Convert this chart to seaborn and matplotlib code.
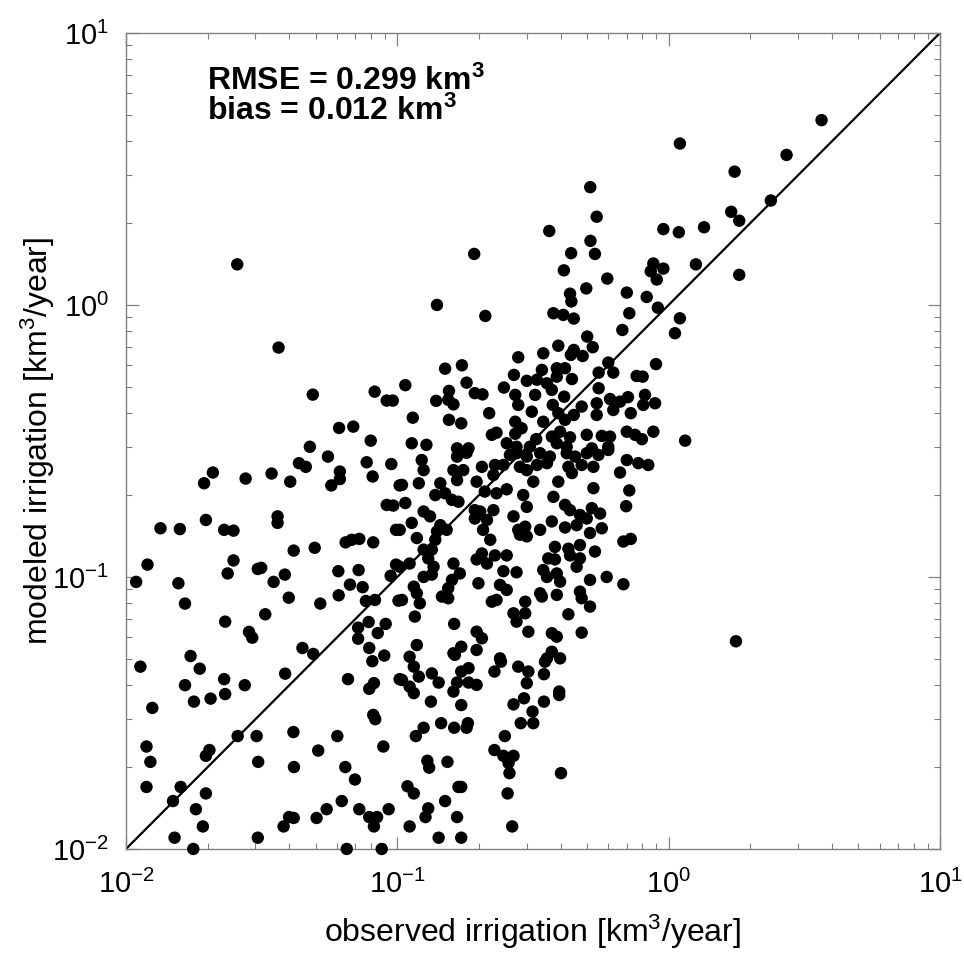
import numpy as np
import pandas as pd
import seaborn as sns
import matplotlib
matplotlib.use("Agg")
import matplotlib.pyplot as plt

# observed vs modeled irrigation, km3/year
observed_km3 = [
    3.66, 1.10, 2.72, 1.75, 2.38, 1.70, 1.82, 1.35, 1.09, 1.26, 1.82, 1.10, 1.055, 1.15, 1.77,
    0.514, 0.543, 0.363, 0.956, 0.515, 0.192, 0.140, 0.211, 0.437, 0.535, 0.411, 0.594, 0.878,
    0.859, 0.956, 0.904, 0.497, 0.433, 0.438, 0.701, 0.830, 0.912, 0.716, 0.376, 0.409, 0.447,
    0.675, 0.501, 0.525, 0.392, 0.447, 0.436, 0.482, 0.345, 0.279, 0.599, 0.898, 0.552, 0.625,
    0.150, 0.173, 0.107, 0.180, 0.269, 0.341, 0.387, 0.415, 0.300, 0.327, 0.356, 0.387, 0.440,
    0.371, 0.762, 0.802, 0.247, 0.155, 0.193, 0.206, 0.272, 0.322, 0.552, 0.139, 0.154, 0.161,
    0.279, 0.374, 0.412, 0.543, 0.608, 0.662, 0.708, 0.818, 0.891, 0.806, 0.313, 0.478, 0.625,
    0.543, 0.725, 0.218, 0.114, 0.155, 0.172, 0.272, 0.345, 0.392, 0.415, 0.447, 0.287, 0.232,
    0.223, 0.272, 0.325, 0.371, 0.398, 0.433, 0.499, 0.567, 0.608, 0.701, 0.752, 0.797, 0.878,
    0.113, 0.128, 0.166, 0.183, 0.253, 0.275, 0.308, 0.387, 0.421, 0.521, 0.599,
    0.0257, 0.0365, 0.0488, 0.0825, 0.0914, 0.0962, 0.0610, 0.0688, 0.0798, 0.0476, 0.0555,
    0.0434, 0.0460, 0.0771, 0.0950, 0.0614, 0.0614, 0.0571, 0.0811, 0.102, 0.0209, 0.0194,
    0.0276, 0.0344, 0.0403, 0.0914, 0.0966, 0.0362, 0.0362, 0.0197, 0.0134, 0.0158, 0.0230,
    0.0249, 0.0989, 0.0645, 0.0679, 0.0724, 0.0815, 0.0415, 0.0496, 0.0120, 0.0249, 0.0237,
    0.0306, 0.0315, 0.0385, 0.0350, 0.0606, 0.0720, 0.0989, 0.0945, 0.0109, 0.0156, 0.0165,
    0.0398, 0.0520, 0.0608, 0.0669, 0.0745, 0.0766, 0.0827, 0.101, 0.0232, 0.0326, 0.0284,
    0.0292, 0.0717, 0.0784, 0.0906, 0.0847, 0.0717, 0.0447, 0.0490, 0.0788, 0.0173, 0.0895,
    0.0809, 0.0113, 0.0187, 0.0386, 0.0658, 0.0230, 0.0165, 0.0274, 0.0232, 0.0205, 0.0178,
    0.0820, 0.0788, 0.102, 0.0125, 0.0815, 0.0829, 0.0258, 0.0303, 0.0414, 0.0601, 0.0119,
    0.0123, 0.0203, 0.0197, 0.0511, 0.0888, 0.0307, 0.0416, 0.0643, 0.0698, 0.0119, 0.0159,
    0.0149, 0.0197, 0.0181, 0.0192, 0.0151, 0.0177, 0.0306, 0.0624, 0.0549, 0.0504, 0.0399,
    0.0415, 0.0381, 0.0724, 0.0788, 0.0842, 0.0820, 0.0929, 0.0651, 0.0876,
    0.123, 0.125, 0.120, 0.104, 0.144, 0.166, 0.161, 0.175, 0.166, 0.180, 0.205, 0.229, 0.246,
    0.226, 0.196, 0.260, 0.275, 0.300, 0.336, 0.365, 0.421, 0.452, 0.499, 0.551, 0.599, 0.283,
    0.300, 0.327, 0.356, 0.317, 0.392, 0.427, 0.440, 0.478, 0.528, 0.701, 0.773, 0.841, 0.662,
    0.528, 0.716, 0.697, 0.107, 0.138, 0.150, 0.159, 0.168, 0.210, 0.232, 0.253, 0.291, 0.300,
    0.376, 0.415, 0.433, 0.471, 0.499, 0.521, 0.559, 0.125, 0.132, 0.113, 0.193, 0.202, 0.226,
    0.193, 0.214, 0.268, 0.144, 0.152, 0.140, 0.207, 0.279, 0.296, 0.300, 0.283, 0.336, 0.371,
    0.415, 0.458, 0.513, 0.567, 0.118, 0.102, 0.138, 0.220, 0.681, 0.725, 0.381, 0.427, 0.471,
    0.535, 0.125, 0.134, 0.130, 0.205, 0.229, 0.253, 0.196, 0.214, 0.360, 0.381, 0.433, 0.471,
    0.458, 0.111, 0.102, 0.136, 0.161, 0.170, 0.159, 0.125, 0.134, 0.246, 0.275, 0.345, 0.356,
    0.387, 0.398, 0.513, 0.591, 0.681, 0.199, 0.239, 0.253, 0.115, 0.118, 0.154, 0.146, 0.154,
    0.104, 0.121, 0.336, 0.387, 0.471, 0.478, 0.513, 0.223, 0.232, 0.296, 0.341, 0.116, 0.268,
    0.296, 0.275, 0.427, 0.162, 0.196, 0.205, 0.304, 0.371, 0.387, 0.478, 0.118, 0.172, 0.161,
    0.196, 0.371, 0.111, 0.239, 0.356, 0.398,
    0.115, 0.104, 0.120, 0.111, 0.115, 0.134, 0.142, 0.133, 0.163, 0.172, 0.183, 0.166, 0.183,
    0.196, 0.161, 0.172, 0.241, 0.228, 0.279, 0.304, 0.300, 0.350, 0.347, 0.395, 0.395, 0.347,
    0.293, 0.268, 0.315, 0.285, 0.317, 0.125, 0.117, 0.145, 0.162, 0.182, 0.180, 0.249, 0.228,
    0.246, 0.268, 0.257, 0.259, 0.401, 0.129, 0.131, 0.153, 0.109, 0.115, 0.150, 0.168, 0.172,
    0.255, 0.130, 0.127, 0.166, 0.111, 0.142, 0.172, 0.265,
]
modeled_km3 = [
    4.78, 3.92, 3.56, 3.09, 2.42, 2.20, 2.04, 1.93, 1.85, 1.41, 1.29, 0.893, 0.787, 0.317, 0.058,
    2.71, 2.11, 1.87, 1.90, 1.72, 1.54, 1.00, 0.911, 1.55, 1.54, 1.34, 1.25, 1.42,
    1.33, 1.36, 1.24, 1.15, 1.10, 1.03, 1.11, 1.07, 0.977, 0.932, 0.932, 0.919, 0.891,
    0.809, 0.765, 0.699, 0.708, 0.683, 0.655, 0.649, 0.664, 0.642, 0.614, 0.606, 0.564, 0.564,
    0.583, 0.600, 0.507, 0.518, 0.553, 0.577, 0.585, 0.585, 0.526, 0.531, 0.515, 0.545, 0.534,
    0.487, 0.548, 0.545, 0.497, 0.483, 0.474, 0.469, 0.467, 0.467, 0.494, 0.444, 0.448, 0.431,
    0.429, 0.429, 0.460, 0.435, 0.451, 0.441, 0.458, 0.467, 0.435, 0.429, 0.405, 0.423, 0.411,
    0.394, 0.400, 0.400, 0.385, 0.378, 0.367, 0.372, 0.372, 0.400, 0.378, 0.394, 0.352, 0.339,
    0.333, 0.336, 0.321, 0.328, 0.342, 0.326, 0.333, 0.330, 0.328, 0.342, 0.333, 0.321, 0.342,
    0.310, 0.306, 0.297, 0.297, 0.310, 0.301, 0.301, 0.310, 0.301, 0.297, 0.301,
    1.41, 0.697, 0.468, 0.480, 0.445, 0.445, 0.353, 0.357, 0.317, 0.301, 0.277,
    0.262, 0.254, 0.264, 0.260, 0.244, 0.229, 0.217, 0.234, 0.217, 0.242, 0.221,
    0.230, 0.240, 0.224, 0.184, 0.183, 0.167, 0.158, 0.162, 0.151, 0.150, 0.149,
    0.148, 0.149, 0.134, 0.137, 0.138, 0.134, 0.125, 0.128, 0.111, 0.115, 0.103,
    0.107, 0.108, 0.102, 0.0959, 0.105, 0.106, 0.111, 0.101, 0.0959, 0.0948, 0.0798,
    0.0839, 0.0798, 0.0856, 0.0937, 0.0917, 0.0816, 0.0823, 0.0818, 0.0685, 0.0729, 0.0628,
    0.0598, 0.0651, 0.0683, 0.0672, 0.0622, 0.0593, 0.0548, 0.0521, 0.0548, 0.0512, 0.0514,
    0.0490, 0.0468, 0.0460, 0.0441, 0.0421, 0.0421, 0.0400, 0.0400, 0.0371, 0.0357, 0.0348,
    0.0407, 0.0388, 0.0421, 0.0330, 0.0311, 0.0300, 0.0260, 0.0260, 0.0269, 0.0260, 0.0238,
    0.0209, 0.0231, 0.0220, 0.0230, 0.0238, 0.0209, 0.0200, 0.0200, 0.0180, 0.0169, 0.0169,
    0.0150, 0.0160, 0.0140, 0.0121, 0.0110, 0.0100, 0.0110, 0.0150, 0.0140, 0.0130, 0.0131,
    0.0130, 0.0121, 0.0140, 0.0131, 0.0131, 0.0121, 0.0140, 0.0100, 0.0100,
    0.269, 0.247, 0.221, 0.218, 0.221, 0.277, 0.247, 0.247, 0.227, 0.286, 0.254, 0.258, 0.258,
    0.237, 0.224, 0.281, 0.285, 0.277, 0.285, 0.277, 0.285, 0.277, 0.285, 0.281, 0.293, 0.254,
    0.247, 0.258, 0.262, 0.224, 0.224, 0.254, 0.241, 0.258, 0.254, 0.269, 0.262, 0.258, 0.242,
    0.212, 0.208, 0.182, 0.187, 0.200, 0.203, 0.192, 0.189, 0.206, 0.203, 0.210, 0.200, 0.181,
    0.197, 0.184, 0.176, 0.169, 0.164, 0.179, 0.171, 0.174, 0.167, 0.158, 0.176, 0.174, 0.176,
    0.164, 0.162, 0.167, 0.155, 0.149, 0.147, 0.149, 0.149, 0.153, 0.141, 0.143, 0.149, 0.160,
    0.152, 0.155, 0.145, 0.151, 0.139, 0.149, 0.137, 0.137, 0.135, 0.138, 0.129, 0.127, 0.131,
    0.124, 0.126, 0.126, 0.117, 0.122, 0.120, 0.120, 0.116, 0.112, 0.117, 0.116, 0.120, 0.117,
    0.109, 0.112, 0.109, 0.109, 0.112, 0.103, 0.0975, 0.100, 0.102, 0.105, 0.104, 0.106, 0.100,
    0.103, 0.0961, 0.0975, 0.100, 0.0940, 0.0948, 0.0935, 0.0896, 0.0921, 0.0871, 0.0909, 0.0847, 0.0835,
    0.0823, 0.0800, 0.0871, 0.0859, 0.0883, 0.0835, 0.0778, 0.0811, 0.0823, 0.0811, 0.0847, 0.0715, 0.0735,
    0.0735, 0.0685, 0.0729, 0.0672, 0.0629, 0.0595, 0.0629, 0.0621, 0.0603, 0.0624, 0.0562, 0.0554, 0.0524,
    0.0539, 0.0531, 0.0509, 0.0502, 0.0502, 0.0502,
    0.0468, 0.0418, 0.0430, 0.0395, 0.0374, 0.0442, 0.0409, 0.0348, 0.0517, 0.0449, 0.0462, 0.0409, 0.0409,
    0.0401, 0.0379, 0.0338, 0.0488, 0.0449, 0.0468, 0.0449, 0.0407, 0.0488, 0.0439, 0.0379, 0.0368, 0.0348,
    0.0358, 0.0340, 0.0320, 0.0290, 0.0290, 0.0279, 0.0260, 0.0290, 0.0279, 0.0290, 0.0279, 0.0260, 0.0231,
    0.0220, 0.0220, 0.0207, 0.0190, 0.0190, 0.0211, 0.0199, 0.0209, 0.0170, 0.0160, 0.0150, 0.0169, 0.0169,
    0.0160, 0.0141, 0.0131, 0.0131, 0.0121, 0.0110, 0.0110, 0.0121,
]

axis_limits = [1e-2, 1e1]
decade_ticks = [1e-2, 1e-1, 1e0, 1e1]
decade_labels = ["10$^{-2}$", "10$^{-1}$", "10$^{0}$", "10$^{1}$"]
rmse_text = "RMSE = 0.299 km$^3$"
bias_text = "bias = 0.012 km$^3$"

sns.set_style("ticks")
plt.rcParams["font.family"] = ["Liberation Sans", "DejaVu Sans"]
plt.rcParams["mathtext.default"] = "regular"
plt.rcParams["text.color"] = "black"
plt.rcParams["axes.labelcolor"] = "black"

df = pd.DataFrame({"observed": observed_km3, "modeled": modeled_km3})

fig = plt.figure(figsize=(9.64, 9.57), dpi=100)
ax = fig.add_axes([0.1307, 0.1129, 0.8444, 0.8527])

sns.scatterplot(data=df, x="observed", y="modeled", ax=ax, color="black",
                s=80, edgecolor="none", linewidth=0, clip_on=False, zorder=3)
ax.plot(axis_limits, axis_limits, color="black", lw=1.6, zorder=2)

ax.set_xscale("log")
ax.set_yscale("log")
ax.set_xlim(axis_limits)
ax.set_ylim(axis_limits)
ax.set_xticks(decade_ticks)
ax.set_xticklabels(decade_labels)
ax.set_yticks(decade_ticks)
ax.set_yticklabels(decade_labels)

ax.tick_params(which="both", direction="in", top=True, right=True,
               color="#808080", labelcolor="black")
ax.tick_params(which="major", length=9, width=0.9, labelsize=21)
ax.tick_params(axis="x", which="major", pad=15)
ax.tick_params(axis="y", which="major", pad=12)
ax.tick_params(which="minor", length=4, width=0.8)
for sp in ax.spines.values():
    sp.set_color("#808080")
    sp.set_linewidth(1.0)

ax.set_xlabel("observed irrigation [km$^3$/year]", fontsize=23, labelpad=10)
ax.set_ylabel("modeled irrigation [km$^3$/year]", fontsize=23, labelpad=-3)

ax.text(0.1, 0.93, rmse_text, transform=ax.transAxes, fontsize=23,
        fontweight="bold", va="baseline")
ax.text(0.1, 0.893, bias_text, transform=ax.transAxes, fontsize=23,
        fontweight="bold", va="baseline")

fig.savefig("out.png", dpi=100)
